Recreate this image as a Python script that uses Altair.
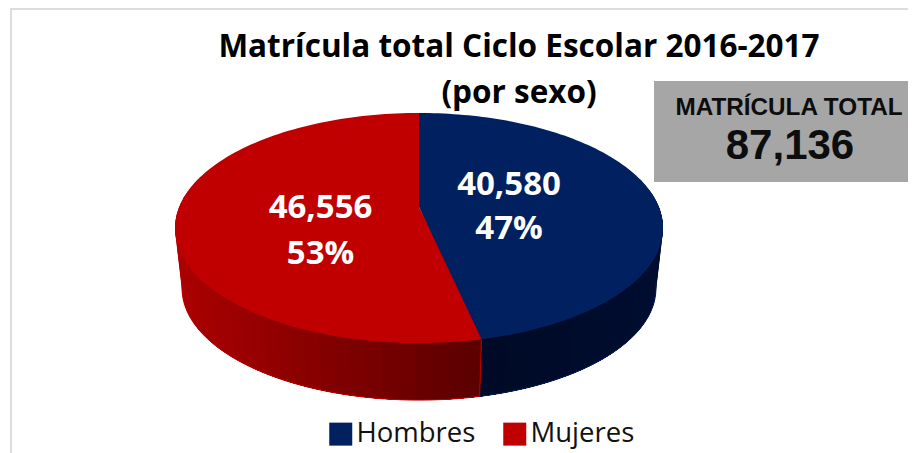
import math
import altair as alt

categories = ["Hombres", "Mujeres"]
values = [40580, 46556]
colors = ["#002060", "#C00000"]
edge_outer = {"Hombres": (0, 13, 48), "Mujeres": (172, 0, 0)}
edge_seam = {"Hombres": (0, 10, 38), "Mujeres": (90, 0, 0)}
title_lines = ["Matrícula total Ciclo Escolar 2016-2017", "(por sexo)"]
box_label = "MATRÍCULA TOTAL"

W, H = 900, 445
OFF = 8
CX, P = 419 - OFF, 0.1826
M, K = 239.9, 111.2
TOP_Y, BASE_Y, BASE_S = 207 - OFF, 268 - OFF, 0.971


def proj(deg, y0=TOP_Y, s=1.0):
    a = math.radians(deg)
    d = 1 + P * math.cos(a)
    return [CX + s * M * math.sin(a) / d, y0 - s * K * math.cos(a) / d]


total = sum(values)
blue_end = 360 * values[0] / total
centre = [CX, TOP_Y]


def frange(a, b, n):
    return [a + (b - a) * i / n for i in range(n + 1)]


def poly(points, **props):
    return {"type": "Feature", "properties": props,
            "geometry": {"type": "Polygon", "coordinates": [points + [points[0]]]}}


def line(points, **props):
    return {"type": "Feature", "properties": props,
            "geometry": {"type": "LineString", "coordinates": points}}


def mix(c1, c2, t):
    t = max(0.0, min(1.0, t))
    return "#%02x%02x%02x" % tuple(round(u + (v - u) * t) for u, v in zip(c1, c2))


sides = []
spans = {"Hombres": (75, blue_end), "Mujeres": (285, blue_end)}
x_seam = proj(blue_end)[0]
x_outer = {"Hombres": CX + 244, "Mujeres": CX - 244}
for name in categories:
    a0, a1 = spans[name]
    n = 36
    for i in range(n):
        b0 = a0 + (a1 - a0) * i / n
        mid = a0 + (a1 - a0) * (i + 0.5) / n
        t = (proj(mid)[0] - x_outer[name]) / (x_seam - x_outer[name])
        arc = frange(b0, a1, 12)
        pts = [proj(u) for u in arc] + [proj(u, BASE_Y, BASE_S) for u in reversed(arc)]
        sides.append(poly(pts, fill=mix(edge_outer[name], edge_seam[name], t)))

# thin wedges below the joins of the two top slices
sides.append(poly([centre, proj(-1), proj(1)], fill=colors[1]))
sides.append(poly([centre, proj(blue_end - 1), proj(blue_end + 1)], fill=colors[1]))

outline = [
    line([proj(t, BASE_Y, BASE_S) for t in frange(blue_end, 262, 60)], stroke=colors[1], w=1),
    line([proj(blue_end), proj(blue_end, BASE_Y, BASE_S)], stroke=colors[1], w=1),
    line([proj(t, BASE_Y, BASE_S) for t in frange(98, blue_end, 60)], stroke=colors[0], w=1),
]

tops = [
    poly([centre] + [proj(t) for t in frange(0, blue_end, 120)], sexo=categories[0]),
    poly([centre] + [proj(t) for t in frange(blue_end, 360, 120)], sexo=categories[1]),
]

one = alt.Data(values=[{"a": 1}])
PROJ = dict(type="identity", scale=1, translate=[0, 0])


def box(x0, x1, y0, y1, color):
    return alt.Chart(one).mark_rect(color=color).encode(
        x=alt.value(x0 - OFF), x2=alt.value(x1 - OFF), y=alt.value(y0 - OFF), y2=alt.value(y1 - OFF))


def label(text, x, y, size, font="Open Sans", color="white"):
    return alt.Chart(alt.Data(values=[{"t": text}])).mark_text(
        font=font, fontSize=size, fontWeight="bold", color=color, align="center", baseline="alphabetic"
    ).encode(text="t:N", x=alt.value(x - OFF), y=alt.value(y - OFF))


side_layer = alt.Chart(alt.Data(values=sides)).mark_geoshape(strokeWidth=0).encode(
    fill=alt.Fill("properties.fill:N", scale=None, legend=None),
).project(**PROJ)

outline_layer = alt.Chart(alt.Data(values=outline)).mark_geoshape(filled=False, strokeWidth=1).encode(
    stroke=alt.Stroke("properties.stroke:N", scale=None, legend=None),
).project(**PROJ)

top_layer = alt.Chart(alt.Data(values=tops)).mark_geoshape(strokeWidth=0).encode(
    color=alt.Color("properties.sexo:N", title=None,
                    scale=alt.Scale(domain=categories, range=colors),
                    legend=alt.Legend(orient="none", legendX=327 - OFF, legendY=420 - OFF, direction="horizontal",
                                      symbolType="square", symbolSize=529, symbolStrokeWidth=0,
                                      labelFont="Open Sans", labelFontSize=27.5, labelColor="#111111",
                                      labelOffset=2, columnPadding=25, padding=0, labelLimit=200, title=None)),
).project(**PROJ)

pct = [f"{round(100 * v / total)}%" for v in values]
texts = [
    label(f"{values[0]:,}", 509, 195, 33), label(pct[0], 509, 239, 33),
    label(f"{values[1]:,}", 320.5, 218, 33), label(pct[1], 320.5, 264, 33),
    label(box_label, 789, 115, 24.3, "Liberation Sans", "#0d0d0d"),
    label(f"{total:,}", 790, 159, 42, "Liberation Sans", "#0d0d0d"),
]

chart = alt.layer(
    box(10, 916, 8, 10, "#dcdcdc"),
    box(10, 12, 8, 453, "#dcdcdc"),
    box(654, 916, 81, 182, "#a6a6a6"),
    side_layer, outline_layer, top_layer,
    *texts,
).properties(
    width=W, height=H, padding=0, autosize="none", background="white",
    title=alt.TitleParams(text=title_lines, font="Open Sans", fontSize=31.5, fontWeight="bold", color="black",
                          anchor="middle", frame="group", align="center", baseline="top", offset=0,
                          dx=61, dy=101, lineHeight=46),
).configure_view(stroke=None)

chart.save("out.html", embed_options={"renderer": "svg", "actions": False})
